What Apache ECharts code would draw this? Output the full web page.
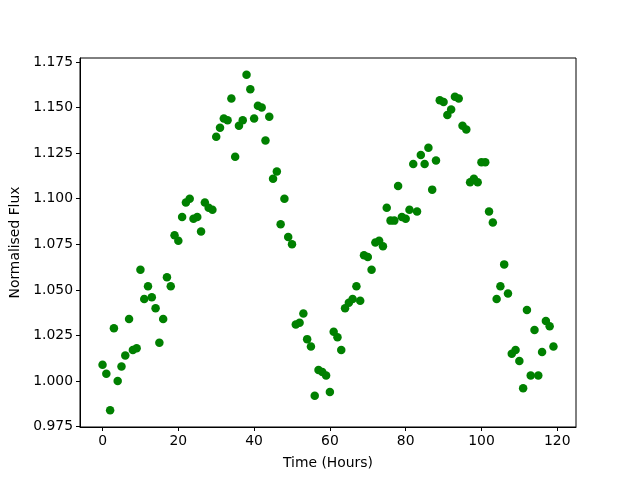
<!DOCTYPE html>
<html>
<head>
<meta charset="utf-8">
<script src="https://cdn.jsdelivr.net/npm/echarts@6/dist/echarts.min.js"></script>
<style>
  html, body { margin: 0; padding: 0; background: #fff; }
  #chart { width: 640px; height: 480px; }
</style>
</head>
<body>
<div id="chart"></div>
<script>
// readings, one per hour
const hours = Array.from({ length: 120 }, (_, i) => i)
const flux = [
  1.009, 1.004, 0.984, 1.029, 1.000, 1.008, 1.014, 1.034, 1.017, 1.018,
  1.061, 1.045, 1.052, 1.046, 1.040, 1.021, 1.034, 1.057, 1.052, 1.080,
  1.077, 1.090, 1.098, 1.100, 1.089, 1.090, 1.082, 1.098, 1.095, 1.094,
  1.134, 1.139, 1.144, 1.143, 1.155, 1.123, 1.140, 1.143, 1.168, 1.160,
  1.144, 1.151, 1.150, 1.132, 1.145, 1.111, 1.115, 1.086, 1.100, 1.079,
  1.075, 1.031, 1.032, 1.037, 1.023, 1.019, 0.992, 1.006, 1.005, 1.003,
  0.994, 1.027, 1.024, 1.017, 1.040, 1.043, 1.045, 1.052, 1.044, 1.069,
  1.068, 1.061, 1.076, 1.077, 1.074, 1.095, 1.088, 1.088, 1.107, 1.090,
  1.089, 1.094, 1.119, 1.093, 1.124, 1.119, 1.128, 1.105, 1.121, 1.154,
  1.153, 1.146, 1.149, 1.156, 1.155, 1.140, 1.138, 1.109, 1.111, 1.109,
  1.120, 1.120, 1.093, 1.087, 1.045, 1.052, 1.064, 1.048, 1.015, 1.017,
  1.011, 0.996, 1.039, 1.003, 1.028, 1.003, 1.016, 1.033, 1.030, 1.019
]
const xTicks = [0, 20, 40, 60, 80, 100, 120]
const yTicks = [0.975, 1.000, 1.025, 1.050, 1.075, 1.100, 1.125, 1.150, 1.175]

const points = hours.map((h, i) => [h, flux[i]])
const font = 'DejaVu Sans'

const chart = echarts.init(document.getElementById('chart'))
chart.setOption({
  animation: false,
  grid: {
    left: 80, right: 64, top: 58, bottom: 53,
    show: true, borderColor: '#000', borderWidth: 1
  },
  xAxis: {
    type: 'value',
    min: -5.95,
    max: 124.95,
    name: 'Time (Hours)',
    nameLocation: 'middle',
    nameGap: 29,
    nameTextStyle: { color: '#000', fontSize: 13.9, fontFamily: font },
    splitLine: { show: false },
    axisLine: { show: true, onZero: false, lineStyle: { color: '#000', width: 1 } },
    axisTick: { show: true, length: 4, customValues: xTicks, lineStyle: { color: '#000' } },
    axisLabel: { customValues: xTicks, margin: 7, color: '#000', fontSize: 13.9, fontFamily: font }
  },
  yAxis: {
    type: 'value',
    min: 0.9748,
    max: 1.1772,
    name: 'Normalised Flux',
    nameLocation: 'middle',
    nameGap: 56,
    nameTextStyle: { color: '#000', fontSize: 13.9, fontFamily: font },
    splitLine: { show: false },
    axisLine: { show: true, onZero: false, lineStyle: { color: '#000', width: 1 } },
    axisTick: { show: true, length: 4, customValues: yTicks, lineStyle: { color: '#000' } },
    axisLabel: {
      customValues: yTicks, margin: 7, color: '#000', fontSize: 13.9, fontFamily: font,
      formatter: v => v.toFixed(3)
    }
  },
  series: [{
    type: 'scatter',
    data: points,
    symbolSize: 8.5,
    itemStyle: { color: '#008000', opacity: 1 }
  }]
})
</script>
</body>
</html>
